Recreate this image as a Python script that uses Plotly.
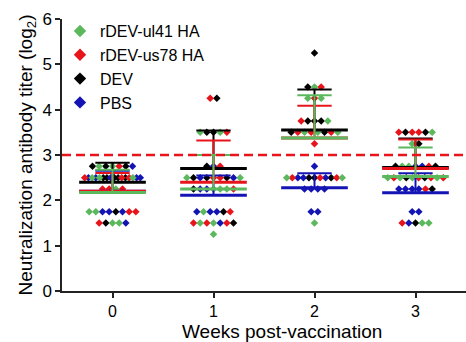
import numpy as np
import plotly.graph_objects as go

# ---------------- data ----------------
weeks = [0, 1, 2, 3]
week_labels = ["0", "1", "2", "3"]
group_names = ["rDEV-ul41 HA", "rDEV-us78 HA", "DEV", "PBS"]
group_codes = ["G", "R", "K", "B"]
group_colors = ["#5cb85c", "#e8141b", "#000000", "#1414b4"]
x_title = "Weeks post-vaccination"
y_title = "Neutralization antibody titer (log<sub>2</sub>)"

# each row: (log2 titer, groups of the dots in that row from left to right)
week0_rows = [(2.75, "KGKGRKB"), (2.5, "RBGBGKKBKKRKRGBB"), (2.25, "RRGR"),
              (1.75, "GGBBKBRR"), (1.5, "RKGGB")]
week1_rows = [(4.25, "RK"), (3.5, "GKKGR"), (2.75, "KBR"), (2.5, "GKBKRRKBG"),
              (2.25, "KBBGGGR"), (1.75, "BGBBKR"), (1.5, "RGRGBRK"), (1.25, "G")]
week2_rows = [(5.25, "K"), (4.5, "KGR"), (4.25, "GRG"), (3.75, "RKKKG"),
              (3.5, "KRGRGKRG"), (3.25, "R"), (2.75, "B"), (2.5, "GRBBKKRBKRG"),
              (2.25, "BBBB"), (1.75, "BB"), (1.5, "G")]
week3_rows = [(3.5, "RKRRKG"), (3.25, "GK"), (2.75, "KGGBBRK"), (2.5, "GRGKGRKRGR"),
              (2.25, "BBBBRK"), (1.75, "BB"), (1.5, "RBKGG")]
all_rows = [week0_rows, week1_rows, week2_rows, week3_rows]
threshold = 3.0

# ---------------- layout helpers ----------------
DOT_STEP = 0.066
ROW_MAX = 0.55
MEAN_HALF = 0.33
CAP_HALF = 0.17

pts = {c: ([], []) for c in group_codes}
vals = {c: [[] for _ in weeks] for c in group_codes}
for wi, rows in enumerate(all_rows):
    w = weeks[wi]
    for v, seq in rows:
        n = len(seq)
        step = DOT_STEP if n <= 1 else min(DOT_STEP, ROW_MAX / (n - 1))
        for i, c in enumerate(seq):
            pts[c][0].append(w + (i - (n - 1) / 2) * step)
            pts[c][1].append(v)
            vals[c][wi].append(v)

fig = go.Figure()
draw_order = ["K", "B", "R", "G"]

# dots
for c in draw_order:
    gi = group_codes.index(c)
    fig.add_trace(go.Scatter(x=pts[c][0], y=pts[c][1], mode="markers",
                             marker=dict(symbol="diamond", size=5.8, color=group_colors[gi],
                                         line=dict(width=0)),
                             showlegend=False, hoverinfo="skip"))

# mean lines and upper SD bars
for c in draw_order:
    gi = group_codes.index(c)
    col = group_colors[gi]
    mx, my, ex, ey = [], [], [], []
    for wi, w in enumerate(weeks):
        arr = np.array(vals[c][wi])
        m = arr.mean()
        s = arr.std(ddof=1)
        mx += [w - MEAN_HALF, w + MEAN_HALF, None]
        my += [m, m, None]
        ex += [w, w, None, w - CAP_HALF, w + CAP_HALF, None]
        ey += [m, m + s, None, m + s, m + s, None]
    fig.add_trace(go.Scatter(x=ex, y=ey, mode="lines", line=dict(color=col, width=2),
                             showlegend=False, hoverinfo="skip"))
    fig.add_trace(go.Scatter(x=mx, y=my, mode="lines", line=dict(color=col, width=3),
                             showlegend=False, hoverinfo="skip"))

# legend entries
for name, col in zip(group_names, group_colors):
    fig.add_trace(go.Scatter(x=[None], y=[None], mode="markers", name=name,
                             marker=dict(symbol="diamond", size=9.5, color=col)))

fig.add_shape(type="line", xref="paper", x0=0, x1=1, yref="y", y0=threshold, y1=threshold,
              line=dict(color="#e8141b", width=2.5, dash="9px,5px"))

FONT = "Arial, Liberation Sans, sans-serif"
fig.add_annotation(text=x_title, xref="paper", yref="paper", x=0.545, y=-0.148,
                   xanchor="center", yanchor="middle", showarrow=False,
                   font=dict(size=19, family=FONT, color="black"))

fig.update_layout(
    width=466, height=342,
    margin=dict(l=62, r=0, t=19, b=51),
    paper_bgcolor="white", plot_bgcolor="white",
    font=dict(family=FONT, size=16, color="black"),
    showlegend=True,
    legend=dict(x=-0.005, y=1.018, xanchor="left", yanchor="top", bgcolor="rgba(0,0,0,0)",
                font=dict(size=16, family=FONT), tracegroupgap=0, itemsizing="trace"),
    xaxis=dict(range=[-0.5, 3.5], tickmode="array", tickvals=weeks, ticktext=week_labels,
               showline=True, linecolor="#222", linewidth=1.5, ticks="outside", ticklen=5,
               tickwidth=1.5, tickcolor="#222", showgrid=False, zeroline=False,
               tickfont=dict(size=16)),
    yaxis=dict(range=[0, 6], tickmode="array", tickvals=[0, 1, 2, 3, 4, 5, 6],
               showline=True, linecolor="#222", linewidth=1.5, ticks="outside", ticklen=5,
               tickwidth=1.5, tickcolor="#222", showgrid=False, zeroline=False,
               tickfont=dict(size=17),
               title=dict(text=y_title, font=dict(size=19), standoff=5)),
)

fig.write_html("out.html")
